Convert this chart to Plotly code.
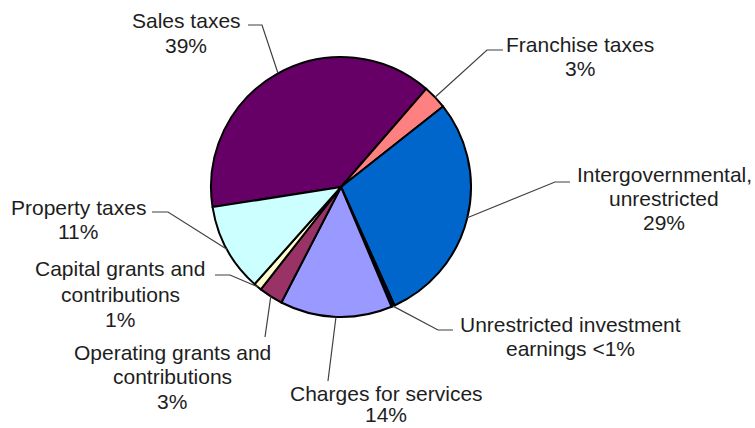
import math
import plotly.graph_objects as go

# Revenue sources (percent of total), clockwise from "Sales taxes"
categories = [
    "Sales taxes",
    "Franchise taxes",
    "Intergovernmental, unrestricted",
    "Unrestricted investment earnings",
    "Charges for services",
    "Operating grants and contributions",
    "Capital grants and contributions",
    "Property taxes",
]
values = [39, 3, 29, 0.4, 14, 3, 1, 11]
pct_labels = ["39%", "3%", "29%", "<1%", "14%", "3%", "1%", "11%"]
label_lines = [
    ["Sales taxes", "39%"],
    ["Franchise taxes", "3%"],
    ["Intergovernmental,", "unrestricted", "29%"],
    ["Unrestricted investment", "earnings <1%"],
    ["Charges for services", "14%"],
    ["Operating grants and", "contributions", "3%"],
    ["Capital grants and", "contributions", "1%"],
    ["Property taxes", "11%"],
]
colors = ["#660066", "#FF8080", "#0066CC", "#000040",
          "#9999FF", "#993366", "#FFFFCC", "#CCFFFF"]

W, H = 755, 428
CX, CY, R = 341, 187, 130
ROTATION = -98.9

# label line centres (px) and leader-line elbows (px)
label_pos = [
    (186, [20, 45]),
    (580, [44, 68]),
    (664, [174, 198, 222]),
    (570, [324, 348]),
    (386, [393, 414]),
    (172, [352, 376, 401]),
    (120, [268, 294, 319]),
    (78, [207, 232]),
]
elbows = [
    [(262, 25), (248, 25)],
    [(487, 50), (503, 50)],
    [(555, 182), (570, 182)],
    [(438, 330), (453, 330)],
    [(328, 381)],
    [(265, 337)],
    [(230, 275), (215, 275)],
    [(168, 212), (152, 212)],
]


def px(x, y):
    return x / W, 1 - y / H


fig = go.Figure(go.Pie(
    labels=categories,
    values=values,
    sort=False,
    direction="clockwise",
    rotation=ROTATION,
    marker=dict(colors=colors, line=dict(color="black", width=2)),
    textinfo="none",
    hoverinfo="label+percent",
    showlegend=False,
    domain=dict(x=[(CX - R) / W, (CX + R) / W],
                y=[1 - (CY + R) / H, 1 - (CY - R) / H]),
))

total = sum(values)
start = ROTATION
shapes = []
annotations = []
for i, v in enumerate(values):
    span = v / total * 360
    mid = math.radians(start + span / 2)
    start += span
    ex, ey = CX + R * math.sin(mid), CY - R * math.cos(mid)
    pts = [(ex, ey)] + elbows[i]
    path = "M " + " L ".join(
        "{:.5f},{:.5f}".format(*px(x, y)) for x, y in pts)
    shapes.append(dict(type="path", path=path, xref="paper", yref="paper",
                       line=dict(color="#404040", width=1.2)))
    lx, lys = label_pos[i]
    for text, ly in zip(label_lines[i], lys):
        ax, ay = px(lx, ly)
        annotations.append(dict(
            text=text, x=ax, y=ay, xref="paper", yref="paper",
            xanchor="center", yanchor="middle", showarrow=False,
            borderpad=0,
            font=dict(family="Liberation Sans, Arial, sans-serif",
                      size=21, color="#1e1e1e"),
        ))

fig.update_layout(
    width=W, height=H,
    margin=dict(l=0, r=0, t=0, b=0),
    paper_bgcolor="white", plot_bgcolor="white",
    shapes=shapes, annotations=annotations,
)

fig.write_html("out.html")
